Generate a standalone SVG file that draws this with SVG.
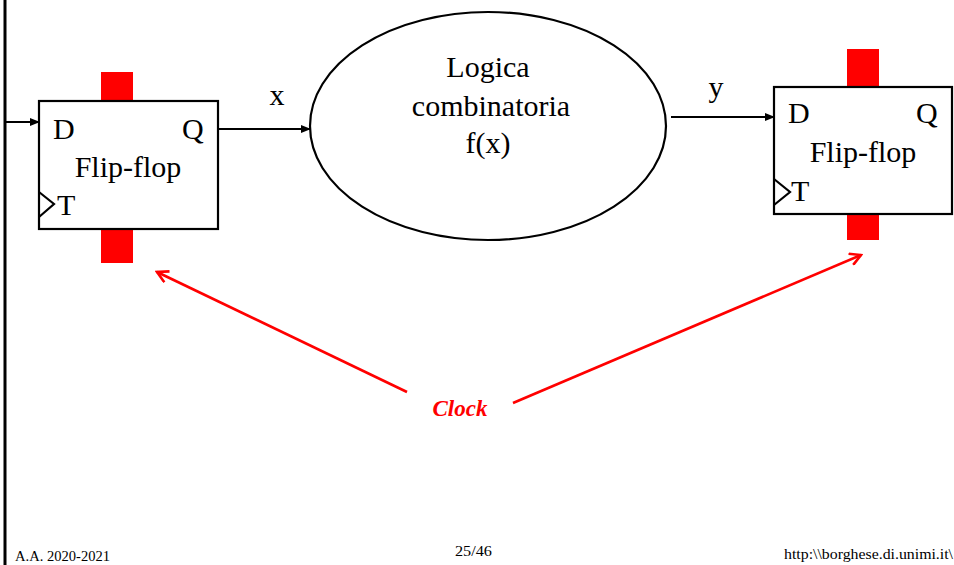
<svg xmlns="http://www.w3.org/2000/svg" width="954" height="565" viewBox="0 0 954 565">
<style>
.t{font-family:"Liberation Serif","Times New Roman",serif;fill:#000}
.big{font-size:30px}
.box{fill:#fff;stroke:#000;stroke-width:2.2}
.clk{fill:#ff0000}
.wire{stroke:#000;stroke-width:2.2;fill:none}
.red{stroke:#ff0000;stroke-width:2.6;fill:none}
.foot{font-size:15px}
</style>
<defs>
<marker id="ah" markerWidth="10" markerHeight="8" refX="9" refY="4" orient="auto" markerUnits="userSpaceOnUse">
<path d="M0,0 L10,4 L0,8 Z" fill="#000"/>
</marker>
<marker id="rh" markerWidth="14" markerHeight="14" refX="12" refY="7" orient="auto" markerUnits="userSpaceOnUse">
<path d="M1,1 L12,7 L1,13" fill="none" stroke="#ff0000" stroke-width="2.6"/>
</marker>
</defs>
<rect width="954" height="565" fill="#fff"/>
<line x1="5" y1="0" x2="5" y2="565" stroke="#000" stroke-width="3"/>

<g id="ff1">
<rect class="clk" x="101" y="72" width="32" height="30"/>
<rect class="clk" x="101" y="228" width="32" height="35"/>
<rect class="box" x="39" y="101" width="179" height="128"/>
<path class="wire" d="M39,192 L54,204 L39,217"/>
<text class="t big" x="53" y="139">D</text>
<text class="t big" x="182" y="139">Q</text>
<text class="t big" x="128" y="177" text-anchor="middle">Flip-flop</text>
<text class="t big" x="57" y="215">T</text>
</g>

<g id="logic">
<ellipse cx="488" cy="126" rx="178" ry="114" fill="#fff" stroke="#000" stroke-width="2.2"/>
<text class="t big" x="488" y="77" text-anchor="middle">Logica</text>
<text class="t big" x="491" y="116" text-anchor="middle">combinatoria</text>
<text class="t big" x="488" y="153" text-anchor="middle">f(x)</text>
</g>

<g id="ff2">
<rect class="clk" x="847" y="49" width="32" height="39"/>
<rect class="clk" x="847" y="213" width="32" height="27"/>
<rect class="box" x="774" y="87" width="178" height="127"/>
<path class="wire" d="M774,179 L790,192 L774,205"/>
<text class="t big" x="788" y="123">D</text>
<text class="t big" x="916" y="123">Q</text>
<text class="t big" x="863" y="162" text-anchor="middle">Flip-flop</text>
<text class="t big" x="791" y="201">T</text>
</g>

<g id="clock">
<text x="460" y="416" text-anchor="middle" font-family="Liberation Serif, serif" font-size="23" font-weight="bold" font-style="italic" fill="#ff0000">Clock</text>
</g>

<g id="connectors">
<line class="wire" x1="5" y1="122" x2="39" y2="122" marker-end="url(#ah)"/>
<line class="wire" x1="218" y1="129" x2="310" y2="129" marker-end="url(#ah)"/>
<line class="wire" x1="671" y1="117" x2="774" y2="117" marker-end="url(#ah)"/>
<line class="red" x1="407" y1="392" x2="157" y2="272" marker-end="url(#rh)"/>
<line class="red" x1="513" y1="403" x2="861" y2="255" marker-end="url(#rh)"/>
</g>

<text class="t big" x="277" y="105" text-anchor="middle">x</text>
<text class="t big" x="716" y="97" text-anchor="middle">y</text>

<text class="t foot" x="15" y="561" textLength="95" lengthAdjust="spacingAndGlyphs">A.A. 2020-2021</text>
<text class="t foot" x="455" y="556" textLength="37" lengthAdjust="spacingAndGlyphs">25/46</text>
<text class="t foot" x="784" y="559" textLength="169" lengthAdjust="spacingAndGlyphs">http:\\borghese.di.unimi.it\</text>
</svg>
